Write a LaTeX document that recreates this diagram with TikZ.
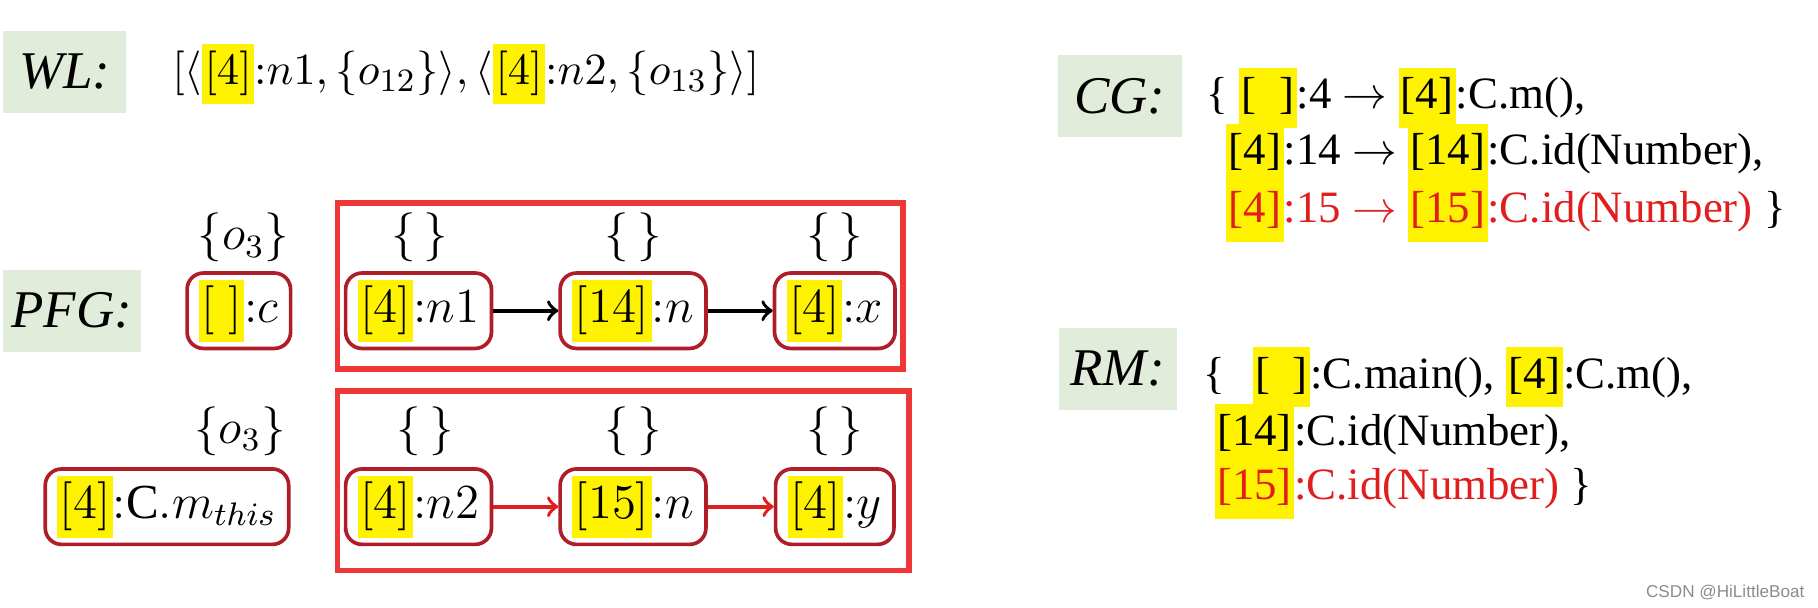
\documentclass[tikz,border=0pt]{standalone}
\usepackage{fontspec}
\setmainfont{Liberation Serif}
\newfontfamily\wmfont{Liberation Sans}
\usetikzlibrary{positioning}
\definecolor{lblgreen}{RGB}{226,236,218}
\definecolor{boxred}{RGB}{175,30,40}
\definecolor{framered}{RGB}{240,55,55}
\definecolor{txtred}{RGB}{225,30,30}
\newcommand{\hlt}[1]{{\setlength{\fboxsep}{0.6pt}\colorbox{yellow}{\strut#1}}}

\begin{document}
\begin{tikzpicture}[x=0.01cm, y=-0.01cm,
      lbl/.style={fill=lblgreen, minimum height=0.71cm, inner sep=0pt,
                  font=\fontsize{13}{15}\selectfont\itshape},
      pnode/.style={draw=boxred, line width=0.9pt, rounded corners=4pt,
                    minimum height=0.65cm, inner xsep=3pt, inner ysep=0pt,
                    font=\fontsize{12}{14}\selectfont},
      pset/.style={font=\fontsize{12}{14}\selectfont},
      frame/.style={draw=framered, line width=1.4pt},
      line/.style={anchor=base west, inner sep=0pt, font=\fontsize{11}{13.5}\selectfont},
      flow/.style={->, line width=0.9pt}]

    \useasboundingbox (0,0) rectangle (1568,524);

    % labels
    \node[lbl, minimum width=1.06cm] (wl)  at (56,62)   {WL:};
    \node[lbl, minimum width=1.19cm] (pfg) at (62,268)  {PFG:};
    \node[lbl, minimum width=1.07cm] (cg)  at (966,83)  {CG:};
    \node[lbl, minimum width=1.02cm] (rm)  at (964,318) {RM:};

    % worklist
    \node[line, font=\fontsize{11.3}{13.5}\selectfont] (wlist) at (148,73)
      {$[\langle$\hlt{$[4]$}${:}n1, \{o_{12}\}\rangle, \langle$\hlt{$[4]$}${:}n2, \{o_{13}\}\rangle]$};

    % pointer flow graph, first row
    \node[pset] (s0) at (210,205) {$\{o_3\}$};
    \node[pset] (s1) at (362,205) {$\{\,\}$};
    \node[pset] (s2) at (546,205) {$\{\,\}$};
    \node[pset] (s3) at (720,205) {$\{\,\}$};
    \node[pnode] (c)   at (206,268) {\hlt{$[\;]$}${:}c$};
    \node[pnode] (n1)  at (361,268) {\hlt{$[4]$}${:}n1$};
    \node[pnode] (n14) at (546,268) {\hlt{$[14]$}${:}n$};
    \node[pnode] (x)   at (720,268) {\hlt{$[4]$}${:}x$};
    \draw[frame] (291,175) rectangle (779,318);
    \draw[flow] (n1) -- (n14);
    \draw[flow] (n14) -- (x);

    % second row
    \node[pset] (t0) at (207,372) {$\{o_3\}$};
    \node[pset] (t1) at (367,372) {$\{\,\}$};
    \node[pset] (t2) at (546,372) {$\{\,\}$};
    \node[pset] (t3) at (720,372) {$\{\,\}$};
    \node[pnode] (mthis) at (144,437) {\hlt{$[4]$}${:}\mathrm{C}.m_{this}$};
    \node[pnode] (n2)  at (361,437) {\hlt{$[4]$}${:}n2$};
    \node[pnode] (n15) at (546,437) {\hlt{$[15]$}${:}n$};
    \node[pnode] (y)   at (720,437) {\hlt{$[4]$}${:}y$};
    \draw[frame] (291,337) rectangle (784,492);
    \draw[flow, txtred] (n2) -- (n15);
    \draw[flow, txtred] (n15) -- (y);

    % call graph
    \node[line] (cg1) at (1040,94)
      {\{ \hlt{[\phantom{4}]}:4 $\rightarrow$ \hlt{[4]}:C.m(),};
    \node[line] (cg2) at (1057,142)
      {\hlt{[4]}:14 $\rightarrow$ \hlt{[14]}:C.id(Number),};
    \node[line, text=txtred] (cg3) at (1057,192)
      {\hlt{[4]}:15 $\rightarrow$ \hlt{[15]}:C.id(Number) \textcolor{black}{\}}};

    % reachable methods
    \node[line] (rm1) at (1037,335)
      {\{\hspace{7pt}\hlt{[\phantom{4}]}:C.main(), \hlt{[4]}:C.m(),};
    \node[line] (rm2) at (1047,384)
      {\hlt{[14]}:C.id(Number),};
    \node[line, text=txtred] (rm3) at (1047,431)
      {\hlt{[15]}:C.id(Number) \textcolor{black}{\}}};

    \node[font=\wmfont\fontsize{4.2}{5}\selectfont, text=black!45] (wm) at (1488,511)
      {CSDN @HiLittleBoat};
\end{tikzpicture}
\end{document}
